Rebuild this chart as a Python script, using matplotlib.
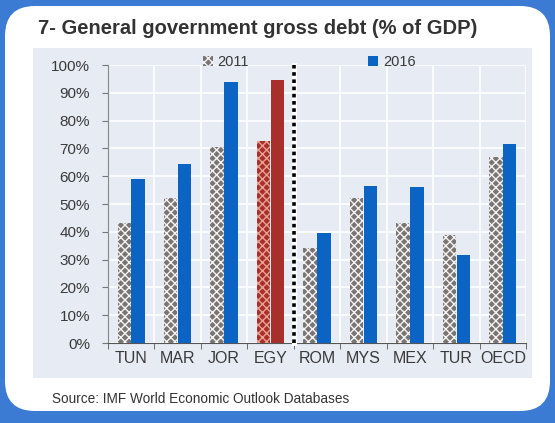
import numpy as np
import matplotlib
matplotlib.use("Agg")
import matplotlib.pyplot as plt
from matplotlib.patches import FancyBboxPatch, Rectangle, Patch
from matplotlib.transforms import IdentityTransform
from matplotlib.ticker import PercentFormatter

countries = ["TUN", "MAR", "JOR", "EGY", "ROM", "MYS", "MEX", "TUR", "OECD"]
debt_2011 = [43, 52, 70.5, 72.5, 34, 52, 43, 39, 67]
debt_2016 = [59, 64.5, 94, 94.5, 39.5, 56.5, 56, 31.5, 71.5]
highlight = "EGY"

plt.rcParams["font.family"] = ["Liberation Sans", "DejaVu Sans"]
plt.rcParams["hatch.linewidth"] = 1.0

BLUE_BG = "#3b7bd3"
PANEL = "#e7ebf3"
BAR_BLUE = "#0b63c4"
GREY = "#7a7472"
RED = "#a8302b"
TXT = "#3a3a3a"

fig = plt.figure(figsize=(5.55, 4.23), dpi=100)
fig.patch.set_facecolor(BLUE_BG)

# white rounded card and grey chart panel (pixel coordinates)
card = FancyBboxPatch((5, 12), 545, 405, boxstyle="round,pad=0,rounding_size=30",
                      transform=IdentityTransform(), facecolor="white",
                      edgecolor="none", zorder=-10)
fig.patches.append(card)
panel = Rectangle((33, 45), 499, 330, transform=IdentityTransform(),
                  facecolor=PANEL, edgecolor="none", zorder=-9)
fig.patches.append(panel)

fig.text(38 / 555, 1 - 28 / 423, "7- General government gross debt (% of GDP)",
         fontsize=14.5, fontweight="bold", color="#333333", va="center", ha="left")
fig.text(52 / 555, 1 - 399 / 423, "Source: IMF World Economic Outlook Databases",
         fontsize=9.8, color="#333333", va="center", ha="left")

ax = fig.add_axes([108 / 555, 80 / 423, 418 / 555, 278 / 423])
ax.set_facecolor("none")

x = np.arange(len(countries))
w = 0.29
for i, c in enumerate(countries):
    if c == highlight:
        fc1, hc1, fc2 = RED, "#eaa090", RED
    else:
        fc1, hc1, fc2 = GREY, "#f4f4f4", BAR_BLUE
    ax.bar(x[i] - 0.15, debt_2011[i] / 100, w, color=fc1, edgecolor=hc1,
           linewidth=0, hatch="xxxx", zorder=3)
    ax.bar(x[i] + 0.15, debt_2016[i] / 100, w, color=fc2, linewidth=0, zorder=3)

# dotted divider between EGY and ROM
ax.plot([3.5, 3.5], [0, 1.0], color="white", lw=3.6, zorder=4, clip_on=False)
ax.plot([3.5, 3.5], [0, 1.0], color="black", lw=2.6, ls=(0, (1, 1)), zorder=5,
        clip_on=False)

ax.set_xlim(-0.5, len(countries) - 0.5)
ax.set_ylim(0, 1.0)
ax.set_yticks(np.arange(0, 1.01, 0.1))
ax.yaxis.set_major_formatter(PercentFormatter(1.0, decimals=0))
ax.set_xticks(x)
ax.set_xticklabels(countries)
ax.set_xticks(np.arange(-0.5, len(countries)), minor=True)
ax.tick_params(axis="x", which="major", length=0, labelsize=11.5, colors=TXT, pad=6)
ax.tick_params(axis="x", which="minor", length=4, direction="out", color="#555555")
ax.tick_params(axis="y", length=4, direction="out", color="#777777",
               labelsize=11, labelcolor=TXT, pad=9)

ax.grid(axis="y", color="white", lw=1.2, zorder=0)
ax.grid(axis="x", which="minor", color="white", lw=1.2, zorder=0)
ax.set_axisbelow(True)
for s in ["top", "right"]:
    ax.spines[s].set_visible(False)
ax.spines["left"].set_color("#888888")
ax.spines["bottom"].set_color("#555555")

handles = [Patch(facecolor=GREY, edgecolor="#f4f4f4", hatch="xxxx", linewidth=0),
           Patch(facecolor=BAR_BLUE, linewidth=0)]
fig.legend(handles, ["2011", "2016"], ncol=2, frameon=False,
           loc="center", bbox_to_anchor=(309 / 555, 1 - 62 / 423),
           fontsize=10.5, handlelength=0.7, handleheight=0.7,
           handletextpad=0.3, columnspacing=8.2, labelcolor=TXT)

fig.savefig("out.png", dpi=100, facecolor=fig.get_facecolor())
